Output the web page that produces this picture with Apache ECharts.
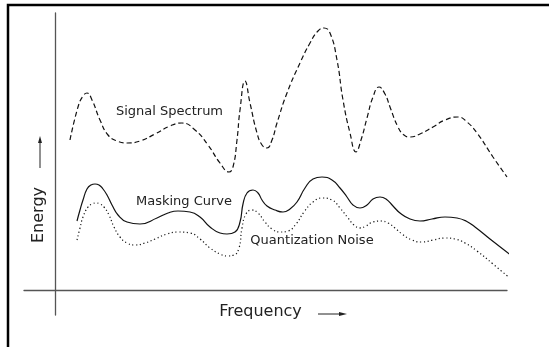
<!DOCTYPE html>
<html>
<head>
<meta charset="utf-8">
<script src="https://cdn.jsdelivr.net/npm/echarts@6/dist/echarts.min.js"></script>
<style>html,body{margin:0;padding:0;background:#fff;}#c{width:549px;height:347px;}</style>
</head>
<body>
<div id="c"></div>
<script>
// Frequency (x) and energy (y) values (arbitrary units, 0 at the axes)
var signalSpectrum = [[15,150],[23,183],[28,194],[32,197],[37,190],[45,170],[53,155],[62,149],[72,147],[85,149],[100,156],[115,164],[127,167],[140,160],[153,145],[165,127],[174,118],[178,123],[182,150],[185,180],[190,209],[195,187],[202,157],[207,145],[212,142],[217,150],[222,167],[232,197],[245,227],[255,247],[263,259],[269,262],[275,257],[282,230],[288,190],[295,157],[301,138],[306,150],[312,172],[318,193],[324,203],[330,196],[335,183],[343,163],[349,155],[355,153],[365,156],[378,163],[390,170],[403,173],[412,168],[422,157],[438,133],[452,113]];
var maskingCurve = [[22,69],[25,80],[28,90],[32,101],[36,105],[40,106],[44,105],[48,101],[52,95],[57,85],[63,75],[72,68],[85,66],[102,72],[113,77],[123,79],[135,78],[145,73],[155,63],[165,57],[172,56],[180,58],[185,68],[188,86],[192,97],[198,100],[203,97],[207,90],[212,84],[220,80],[228,78],[235,81],[242,88],[250,102],[258,111],[267,113],[277,110],[285,102],[292,93],[298,85],[305,82],[312,85],[318,91],[325,93],[331,91],[338,84],[345,77],[355,71],[365,69],[377,71],[390,73],[402,72],[411,69],[420,63],[435,51],[457,34]];
var quantizationNoise = [[22,50],[25,62],[28,73],[33,83],[37,86],[41,87],[45,86],[49,83],[54,75],[59,63],[65,53],[72,47],[80,45],[90,47],[100,51],[112,56],[123,58],[135,57],[145,51],[155,42],[165,36],[172,34],[179,35],[184,42],[187,62],[191,76],[197,80],[203,77],[210,68],[217,61],[225,58],[233,59],[241,66],[249,78],[258,88],[267,92],[277,90],[285,82],[293,72],[299,65],[305,62],[311,64],[318,68],[326,69],[333,67],[340,62],[347,56],[357,50],[367,48],[378,50],[390,52],[400,51],[410,47],[422,39],[438,26],[457,10]];
var labels = { signal: 'Signal Spectrum', masking: 'Masking Curve', noise: 'Quantization Noise', x: 'Frequency', y: 'Energy' };

var chart = echarts.init(document.getElementById('c'), null, {renderer: 'canvas'});
var font = '"DejaVu Sans", sans-serif';
var txt = '#222';
var axisCol = '#555';
chart.setOption({
  animation: false,
  backgroundColor: '#fff',
  grid: [
    {left: 24, right: 42, top: 13, bottom: 57},
    {left: 55, width: 10, top: 13, bottom: 32}
  ],
  xAxis: [
    {gridIndex: 0, type: 'value', min: -31, max: 452, axisLine: {show: true, lineStyle: {color: axisCol, width: 1.3}}, axisTick: {show: false}, axisLabel: {show: false}, splitLine: {show: false}},
    {gridIndex: 1, type: 'value', show: false}
  ],
  yAxis: [
    {gridIndex: 0, type: 'value', min: 0, max: 277, axisLine: {show: false}, axisTick: {show: false}, axisLabel: {show: false}, splitLine: {show: false}},
    {gridIndex: 1, type: 'value', position: 'left', axisLine: {show: true, onZero: false, lineStyle: {color: axisCol, width: 1.3}}, axisTick: {show: false}, axisLabel: {show: false}, splitLine: {show: false}}
  ],
  series: [
    {type: 'line', name: labels.signal, data: signalSpectrum, smooth: 0.5, symbol: 'none', clip: false,
     lineStyle: {color: '#111', width: 1.2, type: [5, 3]}},
    {type: 'line', name: labels.masking, data: maskingCurve, smooth: 0.5, symbol: 'none', clip: false,
     lineStyle: {color: '#111', width: 1.2, type: 'solid'}},
    {type: 'line', name: labels.noise, data: quantizationNoise, smooth: 0.5, symbol: 'none', clip: false,
     lineStyle: {color: '#111', width: 1.2, type: [1.2, 2.6]}}
  ],
  graphic: [
    {type: 'polyline', shape: {points: [[8, 347], [8, 5], [549, 5]]}, style: {stroke: '#000', lineWidth: 2.5, fill: null}},
    {type: 'text', x: 169.5, y: 112, style: {text: labels.signal, font: '13px ' + font, fill: txt, align: 'center', verticalAlign: 'middle'}},
    {type: 'text', x: 184, y: 202, style: {text: labels.masking, font: '13px ' + font, fill: txt, align: 'center', verticalAlign: 'middle'}},
    {type: 'text', x: 312, y: 241, style: {text: labels.noise, font: '13px ' + font, fill: txt, align: 'center', verticalAlign: 'middle'}},
    {type: 'text', x: 260.5, y: 312, style: {text: labels.x, font: '16px ' + font, fill: txt, align: 'center', verticalAlign: 'middle'}},
    {type: 'text', x: 39, y: 215, rotation: Math.PI / 2, style: {text: labels.y, font: '16px ' + font, fill: txt, align: 'center', verticalAlign: 'middle'}},
    {type: 'line', shape: {x1: 40, y1: 168, x2: 40, y2: 141}, style: {stroke: txt, lineWidth: 1}},
    {type: 'polygon', shape: {points: [[40, 136], [38, 143], [42, 143]]}, style: {fill: txt}},
    {type: 'line', shape: {x1: 318, y1: 314, x2: 341, y2: 314}, style: {stroke: txt, lineWidth: 1}},
    {type: 'polygon', shape: {points: [[347, 314], [339, 312], [339, 316]]}, style: {fill: txt}}
  ]
});
</script>
</body>
</html>
